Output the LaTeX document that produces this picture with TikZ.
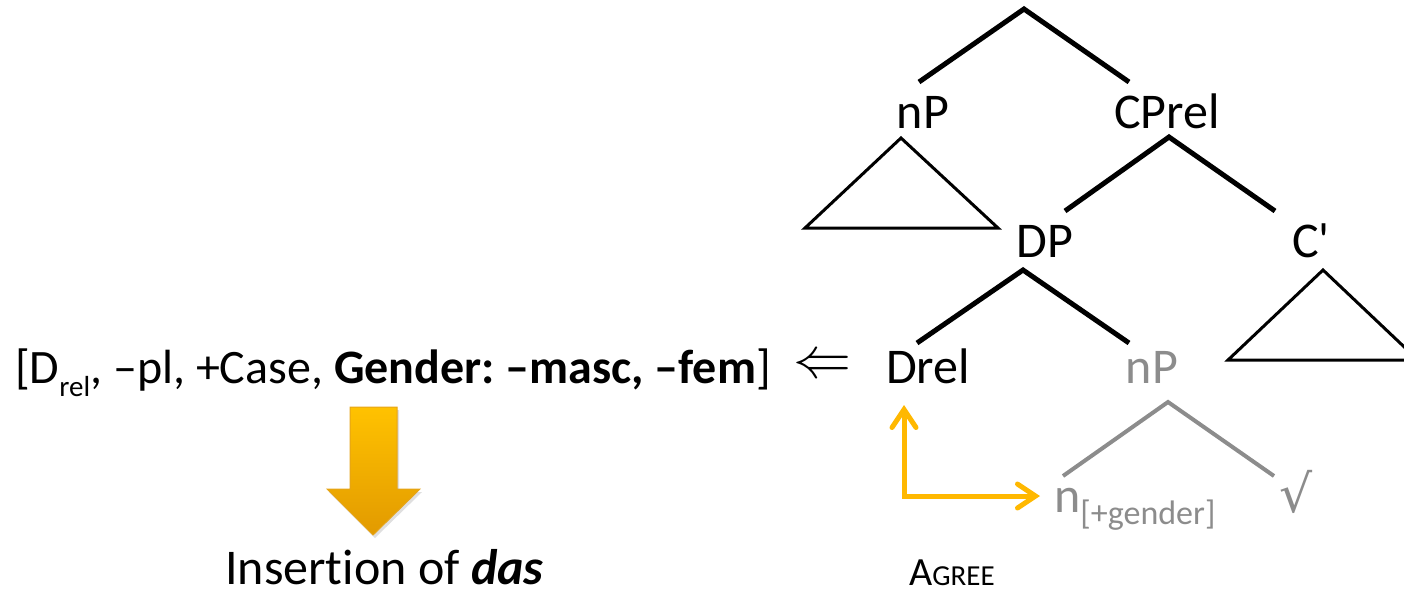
\documentclass[tikz,border=0pt]{standalone}
\usepackage{fix-cm}
\usepackage{fontspec}
\setmainfont[Ligatures=NoCommon]{Carlito}
\usetikzlibrary{arrows.meta,shadows}
\frenchspacing

\definecolor{treegray}{RGB}{140,140,140}
\definecolor{agreeorange}{RGB}{255,184,0}
\definecolor{instop}{RGB}{255,194,0}
\definecolor{insbottom}{RGB}{226,154,0}

\newcommand{\labelfont}{\fontsize{50}{60}\selectfont}
\newcommand{\featfont}{\fontsize{48}{56}\selectfont}
\newcommand{\drelsub}{\raisebox{-13pt}{\fontsize{29}{34}\selectfont rel}}
\newcommand{\gensub}{\raisebox{-12pt}{\fontsize{34}{40}\selectfont [+gender]}}

\begin{document}
\begin{tikzpicture}[x=1pt, y=-1pt,
        lbl/.style={inner sep=0pt, anchor=base, font=\labelfont},
        branch/.style={line width=5pt},
        tri/.style={line width=3pt, line join=miter},
        graybranch/.style={line width=4pt, treegray},
        agreearrow/.style={line width=5pt, agreeorange,
            {Straight Barb[length=18pt,width=24pt,line cap=round]}-{Straight Barb[length=18pt,width=24pt,line cap=round]}}]
    \useasboundingbox (0,0) rectangle (1404,590);
    % \draw[help lines, step=100] (0,0) grid (1404,590);

    \node[lbl] (np-top) at (923,128) {nP};
    \node[lbl] (cprel) at (1167,128) {CPrel};
    \node[lbl] (dp) at (1045,257) {DP};
    \node[lbl] (cbar) at (1311,257) {C\textquotesingle};
    \node[lbl] (drel) at (928,383) {Drel};
    \node[lbl, text=treegray] (np-low) at (1152,383) {nP};
    \node[inner sep=0pt, anchor=base west, font=\labelfont, text=treegray] (n-head) at (1054,512) {n\gensub};
    \node[inner sep=0pt, anchor=base, text=treegray] (root-sym) at (1296,512) {\fontspec{DejaVu Sans}\fontsize{52}{60}\selectfont √};

    \coordinate (root) at (1024,9);
    \coordinate (root-l) at (919,82);
    \coordinate (root-r) at (1129,82);
    \coordinate (cprel-top) at (1169,137);
    \coordinate (cprel-l) at (1065,211);
    \coordinate (cprel-r) at (1275,211);
    \coordinate (dp-top) at (1023,270);
    \coordinate (dp-l) at (917,343);
    \coordinate (dp-r) at (1129,343);
    \coordinate (np-low-top) at (1168,402);
    \coordinate (np-low-l) at (1063,476);
    \coordinate (np-low-r) at (1274,476);

    \draw[branch] (root-l) -- (root) -- (root-r);
    \draw[branch] (cprel-l) -- (cprel-top) -- (cprel-r);
    \draw[branch] (dp-l) -- (dp-top) -- (dp-r);
    \draw[graybranch] (np-low-l) -- (np-low-top) -- (np-low-r);

    \draw[tri] (901,138) -- (805,228) -- (998,228) -- cycle;
    \draw[tri] (1323,270) -- (1228,360) -- (1418,360) -- cycle;

    \node[inner sep=0pt, anchor=base west, font=\featfont] (features) at (15,383)
        {[D\drelsub, –pl, +Case, \textbf{Gender: –masc, –fem}]};
    \node[inner sep=0pt, font=\fontsize{58}{64}\selectfont] (spellout) at (822,367) {$\Leftarrow$};

    \shade[top color=instop, bottom color=insbottom, draw=insbottom!90!white, line width=1pt,
        drop shadow={opacity=0.25, shadow xshift=2pt, shadow yshift=-3pt}]
        (350,407) -- (397,407) -- (397,489) -- (420,489) -- (373,535)
        -- (327,489) -- (350,489) -- cycle;

    \node[inner sep=0pt, anchor=base west, font=\labelfont] (insertion) at (225,584)
        {Insertion of \textbf{\textit{das}}};

    \coordinate (agree-up) at (904,405);
    \coordinate (agree-rt) at (1040,496);
    \draw[agreearrow] (agree-up) |- (agree-rt);
    \node[inner sep=0pt, anchor=base west] (agree) at (909,585)
        {\fontsize{40}{48}\selectfont A\fontsize{29}{34}\selectfont GREE};
\end{tikzpicture}
\end{document}
